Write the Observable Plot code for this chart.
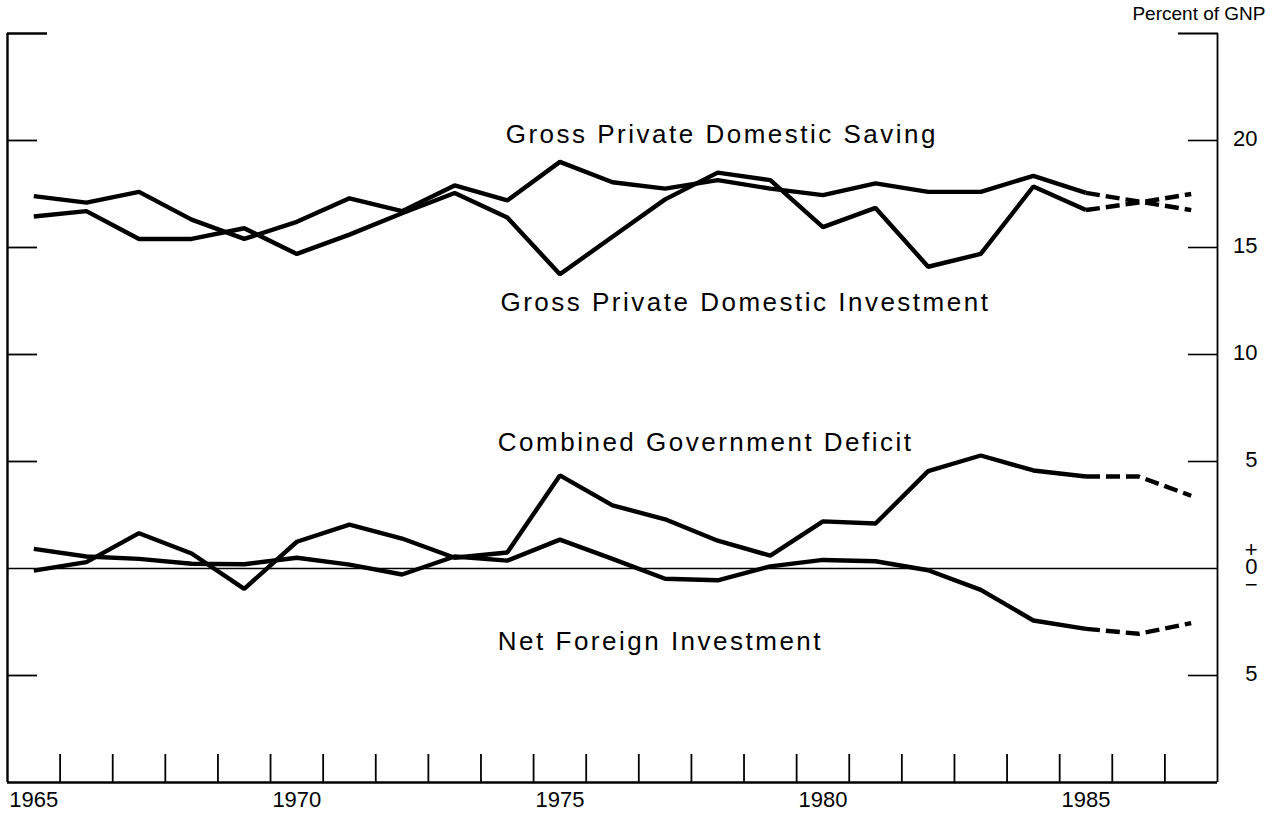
<!DOCTYPE html>
<html>
<head>
<meta charset="utf-8">
<script src="https://cdn.jsdelivr.net/npm/d3@7"></script>
<script src="https://cdn.jsdelivr.net/npm/@observablehq/plot@0.6"></script>
<style>
  html, body { margin: 0; padding: 0; background: #fff; }
  #chart svg { display: block; }
</style>
</head>
<body>
<div id="chart"></div>
<script>
// ---- Data (percent of GNP) ----
const years = [1965,1966,1967,1968,1969,1970,1971,1972,1973,1974,1975,1976,
               1977,1978,1979,1980,1981,1982,1983,1984,1985,1986,1987];
const saving = [17.4,17.1,17.6,16.3,15.4,16.2,17.3,16.7,17.9,17.2,19.0,18.05,
                17.75,18.15,17.75,17.45,18.0,17.6,17.6,18.35,17.55,17.15,16.75];
const investment = [16.45,16.7,15.4,15.4,15.9,14.7,15.6,16.6,17.55,16.4,13.75,15.5,
                    17.25,18.5,18.15,15.95,16.85,14.1,14.7,17.85,16.75,17.1,17.5];
const deficit = [-0.1,0.3,1.65,0.7,-0.95,1.25,2.05,1.4,0.5,0.75,4.35,2.95,
                 2.3,1.3,0.6,2.2,2.1,4.55,5.28,4.58,4.3,4.3,3.4];
const netForeignInvestment = [0.92,0.56,0.45,0.22,0.2,0.5,0.18,-0.28,0.56,0.37,1.35,0.45,
                              -0.48,-0.55,0.1,0.4,0.34,-0.08,-1.0,-2.43,-2.82,-3.05,-2.55];
const lastActualYear = 1985;
const xTickLabels = [1965,1970,1975,1980,1985];
const yDomain = [-10, 25];
const yTicks = [20,15,10,5,0,-5];
const seriesNames = ["Gross Private Domestic Saving","Gross Private Domestic Investment",
                     "Combined Government Deficit","Net Foreign Investment"];
// label anchors in data space (year, percent)
const labelYears = [1973.97,1973.87,1973.82,1973.82];
const labelValues = [19.9,12.05,5.47,-3.83];
const unitLabel = "Percent of GNP";

// ---- Build table ----
const seriesValues = [saving, investment, deficit, netForeignInvestment];
const rows = [];
seriesNames.forEach((name, s) => {
  years.forEach((yr, i) => rows.push({series: name, year: yr, value: seriesValues[s][i]}));
});
const actual = rows.filter(d => d.year <= lastActualYear);
const projected = rows.filter(d => d.year >= lastActualYear);
const labels = seriesNames.map((name, i) => ({name, year: labelYears[i], value: labelValues[i]}));
const xDomain = [years[0] - 0.5, years[years.length - 1] + 0.5];
const boundaries = years.slice(1).map(y => y - 0.5);
const tickedValues = yTicks.filter(d => d !== 0);

const font = "'Liberation Sans', Arial, Helvetica, sans-serif";

const chart = Plot.plot({
  width: 1277,
  height: 818,
  marginLeft: 7,
  marginRight: 60,
  marginTop: 33,
  marginBottom: 36,
  style: {fontFamily: font, background: "#fff", color: "#000", overflow: "visible"},
  x: {domain: xDomain},
  y: {domain: yDomain},
  marks: [
    // zero line
    Plot.ruleY([0], {stroke: "#000", strokeWidth: 1.6}),
    // frame lines (left, right, bottom)
    Plot.ruleX([xDomain[0]], {y1: yDomain[0], y2: yDomain[1], stroke: "#000", strokeWidth: 2.4}),
    Plot.ruleX([xDomain[1]], {y1: yDomain[0], y2: yDomain[1], stroke: "#000", strokeWidth: 1.8}),
    Plot.ruleY([yDomain[0]], {stroke: "#000", strokeWidth: 2.6}),
    // left axis inward ticks, no labels
    Plot.axisY({anchor: "left", ticks: tickedValues, tickSize: -30,
                tickFormat: () => "", strokeWidth: 1.8, label: null}),
    Plot.axisY({anchor: "left", ticks: [yDomain[1]], tickSize: -40,
                tickFormat: () => "", strokeWidth: 2.4, label: null}),
    // right axis inward ticks
    Plot.axisY({anchor: "right", ticks: tickedValues, tickSize: -30,
                tickFormat: () => "", strokeWidth: 1.6, label: null}),
    Plot.axisY({anchor: "right", ticks: [yDomain[1]], tickSize: -40,
                tickFormat: () => "", strokeWidth: 2.2, label: null}),
    // right axis labels
    Plot.axisY({anchor: "right", ticks: yTicks, tickSize: 0, tickPadding: 40,
                textAnchor: "end", fontSize: 22, lineHeight: 0.8,
                tickFormat: d => d === 0 ? "+\n0\n\u2212" : String(Math.abs(d)), label: null}),
    // bottom axis upward year-boundary ticks
    Plot.axisX({anchor: "bottom", ticks: boundaries, tickSize: -28, tickFormat: () => "",
                strokeWidth: 1.8, label: null}),
    // bottom axis year labels
    Plot.axisX({anchor: "bottom", ticks: xTickLabels, tickSize: 0, tickPadding: 9,
                fontSize: 22, tickFormat: d => String(d), label: null}),
    // series lines
    Plot.line(actual, {x: "year", y: "value", z: "series", stroke: "#000", strokeWidth: 4.4,
                       strokeLinejoin: "miter", strokeLinecap: "butt"}),
    Plot.line(projected, {x: "year", y: "value", z: "series", stroke: "#000", strokeWidth: 4.4,
                          strokeDasharray: "14,6", strokeLinecap: "butt"}),
    // series labels
    Plot.text(labels, {x: "year", y: "value", text: "name", textAnchor: "start", lineAnchor: "bottom",
                       fontSize: 26, fill: "#000"}),
    // unit label
    Plot.text([unitLabel], {frameAnchor: "top-right", textAnchor: "end", lineAnchor: "bottom",
                            dx: 48, dy: -14, fontSize: 19, fill: "#000"})
  ]
});
document.getElementById("chart").append(chart);
// letter spacing for series labels
chart.querySelectorAll("text").forEach(t => {
  if (seriesNames.includes(t.textContent)) t.setAttribute("letter-spacing", "2.5");
});
</script>
</body>
</html>
